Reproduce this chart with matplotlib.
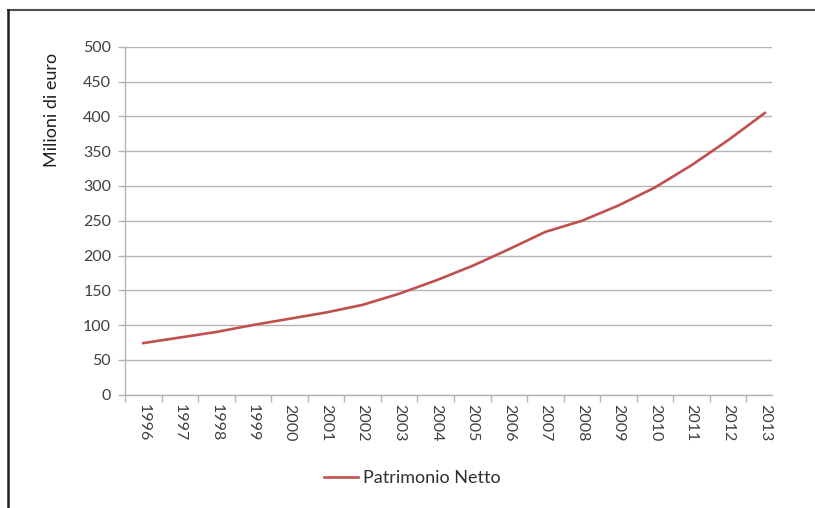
import matplotlib
matplotlib.use("Agg")
import matplotlib.pyplot as plt
import numpy as np
from matplotlib.lines import Line2D

plt.rcParams['font.family'] = ['Lato', 'DejaVu Sans']

years = ['1996', '1997', '1998', '1999', '2000', '2001', '2002', '2003', '2004',
         '2005', '2006', '2007', '2008', '2009', '2010', '2011', '2012', '2013']
patrimonio = [74, 82, 90, 100, 109, 118, 129, 145, 164,
              185, 209, 234, 250, 272, 298, 330, 366, 405]
y_ticks = [0, 50, 100, 150, 200, 250, 300, 350, 400, 450, 500]

grid_col = '#b4b4b4'
text_col = '#404040'

fig = plt.figure(figsize=(8.15, 5.08), dpi=100)
ax = fig.add_axes([0.1534, 0.2234, 0.7935, 0.6841])

x = np.arange(len(years))
ax.plot(x, patrimonio, color='#c0504d', lw=1.9, label='Patrimonio Netto')

ax.set_xlim(-0.49, len(years) - 0.81)
ax.set_ylim(0, 500)
ax.set_yticks(y_ticks)
ax.set_yticklabels([str(v) for v in y_ticks], fontsize=11.5, color=text_col)
ax.set_xticks(x)
ax.set_xticklabels(years, rotation=270, fontsize=11.5, color=text_col)
ax.set_xticks(np.arange(-0.5, len(years) - 1), minor=True)
ax.tick_params(axis='x', which='major', length=0, pad=7)
ax.tick_params(axis='x', which='minor', length=5, color=grid_col, width=1)
ax.tick_params(axis='y', length=5, color=grid_col, width=1, pad=5)

ax.grid(axis='y', color=grid_col, lw=1)
ax.set_axisbelow(True)
for s in ['top', 'right']:
    ax.spines[s].set_visible(False)
for s in ['left', 'bottom']:
    ax.spines[s].set_color(grid_col)
    ax.spines[s].set_linewidth(1)

ax.set_ylabel('Milioni di euro', fontsize=13, color='#202020')
ax.yaxis.set_label_coords(-0.101, 0.819)

fig.legend(loc='center', bbox_to_anchor=(0.506, 0.059), frameon=False,
           fontsize=13, handlelength=1.9, handletextpad=0.3,
           labelcolor='#303030')

# outer frame (cropped: only top and left edges visible)
fig.add_artist(Line2D([0.0098, 1.0], [0.980, 0.980], transform=fig.transFigure,
                      color='#505050', lw=1.5))
fig.add_artist(Line2D([0.0098, 0.0098], [0.980, 0.0], transform=fig.transFigure,
                      color='#202020', lw=1.8))

fig.savefig('out.png', dpi=100)
